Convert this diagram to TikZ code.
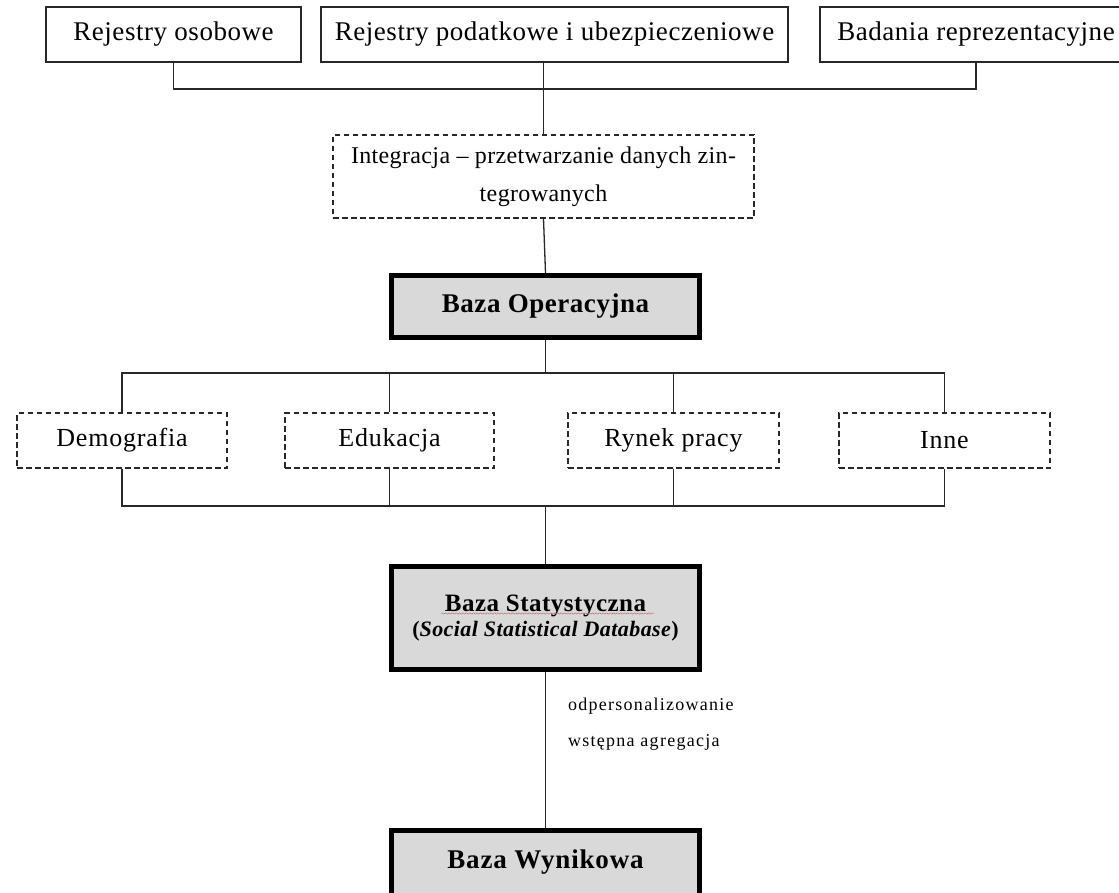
\documentclass[tikz,border=0pt]{standalone}
\usepackage{fontspec}
\setmainfont{Liberation Serif}
\usetikzlibrary{decorations.pathmorphing}

\definecolor{boxgray}{RGB}{217,217,217}
\definecolor{linegray}{RGB}{40,40,40}

\tikzset{
  conn/.style={draw=linegray, line width=1.3pt},
  solidbox/.style={draw=linegray, line width=1.3pt, fill=white, inner sep=0pt,
    minimum height=55pt, font=\fontsize{27}{32}\selectfont\addfontfeature{LetterSpace=2}},
  dashbox/.style={draw=linegray, line width=1.3pt, dash pattern=on 5.5pt off 3.5pt,
    fill=white, inner sep=0pt, minimum height=55pt,
    font=\fontsize{26}{30}\selectfont\addfontfeature{LetterSpace=3}},
  dbbox/.style={draw=black, line width=5pt, fill=boxgray, inner sep=0pt,
    minimum width=308pt, align=center},
  note/.style={anchor=west, inner sep=0pt,
    font=\fontsize{18}{22}\selectfont\addfontfeature{LetterSpace=7}},
  spell/.style={draw=red!70, line width=0.45pt, decorate,
    decoration={snake, amplitude=0.7pt, segment length=3.5pt}}
}

\begin{document}
\begin{tikzpicture}[x=1pt, y=-1pt]
  \clip (0,0) rectangle (1119,893);
  \fill[white] (0,0) rectangle (1119,893);

  % data sources
  \node[solidbox, minimum width=255pt] (ro) at (173.5,34.5) {Rejestry osobowe};
  \node[solidbox, minimum width=467pt] (rp) at (554.5,34.5) {Rejestry podatkowe i ubezpieczeniowe};
  \node[solidbox, minimum width=312pt] (br) at (976,34.5) {Badania reprezentacyjne};

  % integration step
  \node[dashbox, minimum width=421pt, minimum height=83pt, align=center,
        font=\fontsize{24}{38}\selectfont\addfontfeature{LetterSpace=1.5}]
        (integ) at (543.5,176.5) {Integracja -- przetwarzanie danych zin-\\tegrowanych};

  % operational base
  \node[dbbox, minimum height=62pt, font=\fontsize{27}{32}\selectfont\bfseries\addfontfeature{LetterSpace=2}]
        (bo) at (545.5,306.5) {Baza Operacyjna};

  % thematic areas
  \node[dashbox, minimum width=210pt] (dem) at (122,440.5) {Demografia};
  \node[dashbox, minimum width=209pt] (edu) at (389.5,440.5) {Edukacja};
  \node[dashbox, minimum width=211pt] (ryn) at (673.5,440.5) {Rynek pracy};
  \node[dashbox, minimum width=211pt] (inn) at (944.5,440.5) {Inne};

  % statistical base
  \node[dbbox, minimum height=103pt, font=\bfseries]
        (bs) at (545.5,618) {\fontsize{25}{28}\selectfont\addfontfeature{LetterSpace=2}Baza Statystyczna\\[4pt]
        \fontsize{22}{28}\selectfont\addfontfeature{LetterSpace=2}(\textit{Social Statistical Database})};
  \draw[spell] (441,613.5) -- (654,613.5);

  % result base (its lower edge runs past the page)
  \node[dbbox, minimum height=72pt, font=\fontsize{27}{32}\selectfont\bfseries\addfontfeature{LetterSpace=3}]
        (bw) at (545.5,866.5) {\raisebox{15pt}{Baza Wynikowa}};

  % side notes
  \node[note] (n1) at (568,706) {odpersonalizowanie};
  \node[note] (n2) at (568,742) {wstępna agregacja};

  % bus levels
  \coordinate (busA) at (0,89);
  \coordinate (busB) at (0,373);
  \coordinate (busC) at (0,506);

  % connectors
  \draw[conn] (ro.south) -- (ro.south |- busA) -- (br.south |- busA) -- (br.south);
  \draw[conn] (integ.north) -- (integ.north |- rp.south);
  \draw[conn] (integ.south) -- (bo.north);

  \draw[conn] (bo.south) -- (bo.south |- busB);
  \draw[conn] (dem.north) -- (dem.north |- busB) -- (inn.north |- busB) -- (inn.north);
  \draw[conn] (edu.north) -- (edu.north |- busB);
  \draw[conn] (ryn.north) -- (ryn.north |- busB);

  \draw[conn] (dem.south) -- (dem.south |- busC) -- (inn.south |- busC) -- (inn.south);
  \draw[conn] (edu.south) -- (edu.south |- busC);
  \draw[conn] (ryn.south) -- (ryn.south |- busC);
  \draw[conn] (bs.north |- busC) -- (bs.north);

  \draw[conn] (bs.south) -- (bw.north);
\end{tikzpicture}
\end{document}
